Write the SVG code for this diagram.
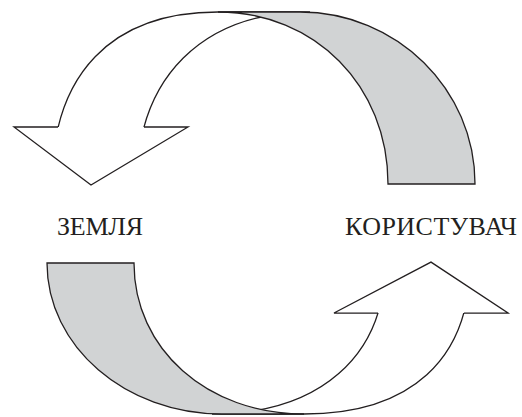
<svg xmlns="http://www.w3.org/2000/svg" xmlns:xlink="http://www.w3.org/1999/xlink" width="522" height="417" viewBox="0 0 522 417">
  <style>
    .edge { stroke: #231f20; stroke-width: 1.3; stroke-linejoin: miter; fill: none; vector-effect: non-scaling-stroke; }
    .front { fill: #ffffff; }
    .back { fill: #d1d3d4; }
    .label { font-family: "Liberation Serif", "Times New Roman", serif; font-size: 26px; fill: #231f20; }
  </style>
  <defs>
    <clipPath id="above-head" clipPathUnits="userSpaceOnUse">
      <rect x="0" y="0" width="522" height="127.3"/>
    </clipPath>
    <g id="cycle-arrow">
      <!-- front (white) band, cut at the arrowhead base -->
      <path class="front edge" clip-path="url(#above-head)" d="M52,184 C52,73.9 111.8,12 218,12 L310,12 C202.7,12 137,77.4 137,184 Z"/>
      <!-- arrowhead -->
      <path class="front" d="M14,127 L188,127 L91,185 Z"/>
      <path class="edge" d="M58,127 L14,127 L91,185 L188,127 L144,127"/>
      <!-- back (grey) band -->
      <path class="back edge" d="M218,12 L300,12 C396.6,12 475,89.1 475,184 L388,184 C388,86 314.9,12 218,12 Z"/>
    </g>
  </defs>

  <g id="connectors">
    <use id="arrow-top" xlink:href="#cycle-arrow"/>
    <use id="arrow-bottom" xlink:href="#cycle-arrow" transform="matrix(-1,0,0,-0.878,522,424.54)"/>
  </g>

  <g id="node-zemlya">
    <text class="label" x="57" y="235" textLength="86" lengthAdjust="spacing">ЗЕМЛЯ</text>
  </g>
  <g id="node-korystuvach">
    <text class="label" x="345" y="235" textLength="172" lengthAdjust="spacing">КОРИСТУВАЧ</text>
  </g>
</svg>
